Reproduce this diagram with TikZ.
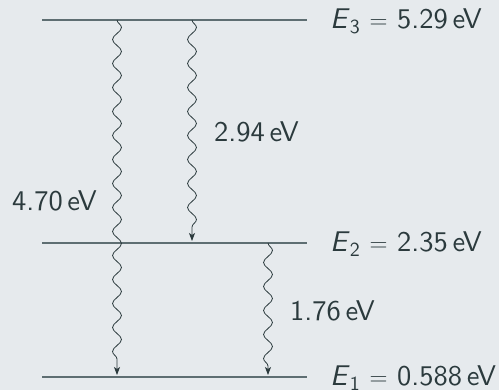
\documentclass[tikz,border=0pt]{standalone}
\usepackage{fontspec}
\newfontfamily\lmsten[Extension=.otf,ItalicFont=lmsans10-oblique]{lmsans10-regular}
\usetikzlibrary{decorations.pathmorphing,arrows.meta}
\definecolor{bgc}{HTML}{E6EAED}
\definecolor{txt}{HTML}{2B3A3D}
\definecolor{lvl}{HTML}{5E6E72}
\begin{document}
\begin{tikzpicture}[x=1pt,y=-1pt,
  level/.style={draw=lvl,line width=1.5pt},
  photon/.style={draw=txt,line width=0.8pt,decorate,
    decoration={snake,segment length=24pt,amplitude=4.5pt,post length=7pt},
    -{Stealth[length=8pt,width=6pt,inset=2pt]}},
  lab/.style={text=txt,font=\lmsten\fontsize{28.5}{34}\selectfont,inner sep=0pt}]
\fill[bgc] (0,0) rectangle (499,390);
\useasboundingbox (0,0) rectangle (499,390);
% levels
\coordinate (L3a) at (42,20);  \coordinate (L3b) at (307,20);
\coordinate (L2a) at (42,243); \coordinate (L2b) at (307,243);
\coordinate (L1a) at (42,377); \coordinate (L1b) at (307,377);
\draw[level] (L3a) -- (L3b);
\draw[level] (L2a) -- (L2b);
\draw[level] (L1a) -- (L1b);
\node[lab,anchor=base west] (E3) at (330,29) {\textit{E}\textsubscript{3} $=$ 5.29\,eV};
\node[lab,anchor=base west] (E2) at (330,252) {\textit{E}\textsubscript{2} $=$ 2.35\,eV};
\node[lab,anchor=base west] (E1) at (330,386) {\textit{E}\textsubscript{1} $=$ 0.588\,eV};
% transitions
\coordinate (a1) at (117,20);  \coordinate (b1) at (117,375);
\coordinate (a2) at (192,20);  \coordinate (b2) at (192,241);
\coordinate (a3) at (268,243); \coordinate (b3) at (268,375);
\draw[photon] (a1) -- (b1);
\draw[photon] (a2) -- (b2);
\draw[photon] (a3) -- (b3);
\node[lab,anchor=base east] (t1) at (97,211) {4.70\,eV};
\node[lab,anchor=base west] (t2) at (214,142) {2.94\,eV};
\node[lab,anchor=base west] (t3) at (290,321) {1.76\,eV};
\end{tikzpicture}
\end{document}
